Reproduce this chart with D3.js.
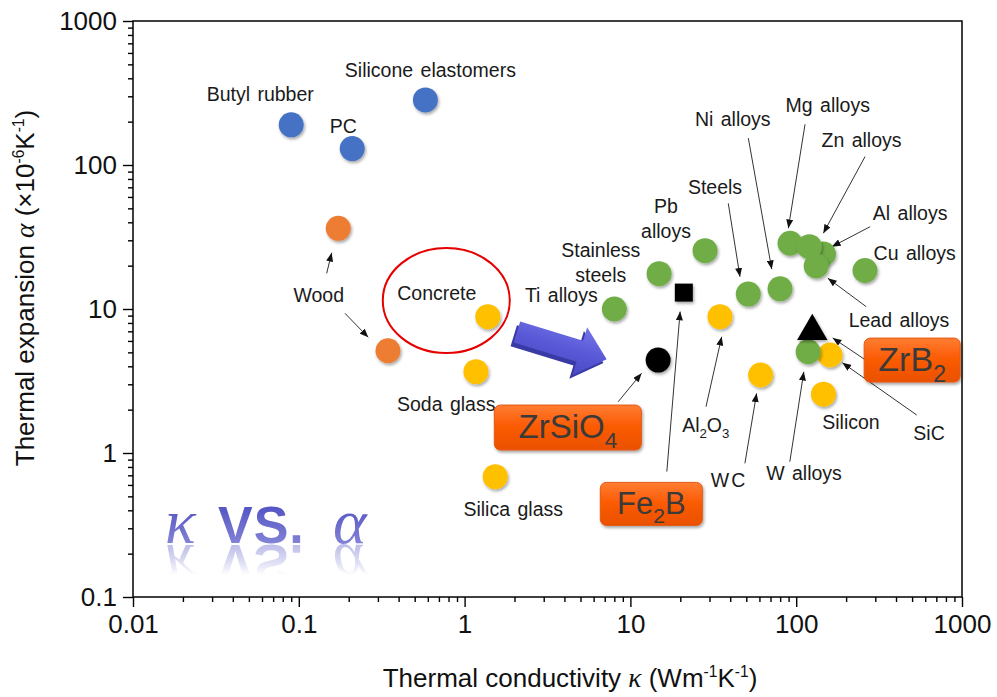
<!DOCTYPE html>
<html>
<head>
<meta charset="utf-8">
<script src="https://cdn.jsdelivr.net/npm/d3@7"></script>
<style>
  body { margin: 0; background: #fff; }
  svg { display: block; font-family: "Liberation Sans", Arial, sans-serif; }
</style>
</head>
<body>
<svg id="chart" width="997" height="697"></svg>
<script>
// ---- Material property data: thermal conductivity κ (W m^-1 K^-1), expansion α (10^-6 K^-1) ----
const polymerNames = ["Butyl rubber", "PC", "Silicone elastomers"];
const polymerK = [0.09, 0.21, 0.58];
const polymerA = [190, 130, 283];

const woodNames = ["Wood", "Wood"];
const woodK = [0.173, 0.345];
const woodA = [36.3, 5.13];

const ceramicNames = ["Concrete", "Soda glass", "Silica glass", "Al2O3", "WC", "SiC", "Silicon"];
const ceramicK = [1.38, 1.17, 1.53, 34.7, 61, 160, 146];
const ceramicA = [8.84, 3.67, 0.685, 8.84, 3.48, 4.79, 2.56];

const metalNames = ["Ti alloys", "Stainless steels", "Pb alloys", "Steels", "Ni alloys",
                    "Al alloys", "Mg alloys", "Zn alloys", "Lead alloys", "Cu alloys", "W alloys"];
const metalK = [8.0, 14.9, 28.2, 51.4, 79.9, 146, 91.8, 120, 132, 260, 118];
const metalA = [10.0, 17.6, 25.4, 12.7, 13.8, 24.1, 28.6, 27.1, 19.9, 18.5, 5.05];

const compoundNames = ["ZrSiO4", "Fe2B", "ZrB2"];
const compoundK = [14.7, 21, 125];
const compoundA = [4.42, 13.0, 7.0];
const compoundShapes = ["circle", "square", "triangle"];

const xTicks = [0.01, 0.1, 1, 10, 100, 1000];
const xTickLabels = ["0.01", "0.1", "1", "10", "100", "1000"];
const yTicks = [0.1, 1, 10, 100, 1000];
const yTickLabels = ["0.1", "1", "10", "100", "1000"];

// ---- Label placement (pixel offsets from each marker centre) ----
const notes = {
  "Butyl rubber":        { text: ["Butyl rubber"], at: [-31, -24] },
  "PC":                  { text: ["PC"], at: [-9, -16] },
  "Silicone elastomers": { text: ["Silicone elastomers"], at: [5, -23] },
  "Wood#0":              { text: ["Wood"], at: [-19.5, 73.4], arrow: [[-11.6, 45], [-6.6, 24.4]] },
  "Wood#1":              { arrow: [[-43, -37.4], [-19.7, -13.4]] },
  "Concrete":            { text: ["Concrete"], at: [-51, -16.7] },
  "Soda glass":          { text: ["Soda glass"], at: [-29.7, 39.3] },
  "Silica glass":        { text: ["Silica glass"], at: [18, 39] },
  "Al2O3":               { text: ["Al2O3"], at: [-14.2, 115], arrow: [[-14, 90], [1.7, 20]] },
  "WC":                  { text: ["WC"], at: [-31.5, 111.7], arrow: [[-15.7, 88.3], [-4, 18.3]], spacing: 2 },
  "SiC":                 { text: ["SiC"], at: [99, 85], arrow: [[86.7, 60], [12.3, 7.7]] },
  "Silicon":             { text: ["Silicon"], at: [27.5, 34.7] },
  "Ti alloys":           { text: ["Ti alloys"], at: [-53, -7.3] },
  "Stainless steels":    { text: ["Stainless", "steels"], at: [-58.3, -17] },
  "Pb alloys":           { text: ["Pb", "alloys"], at: [-39, -38] },
  "Steels":              { text: ["Steels"], at: [-33.3, -100], arrow: [[-20, -90.7], [-8.3, -17.3]] },
  "Ni alloys":           { text: ["Ni alloys"], at: [-47.3, -163], arrow: [[-31.7, -150.7], [-8.3, -19.7]] },
  "Mg alloys":           { text: ["Mg alloys"], at: [37.7, -131.6], arrow: [[15, -119], [-1.7, -15]] },
  "Zn alloys":           { text: ["Zn alloys"], at: [52.2, -100], arrow: [[55.7, -90], [14, -13.4]] },
  "Al alloys":           { text: ["Al alloys"], at: [86.7, -34], arrow: [[46.7, -27.3], [8.4, -7.3]] },
  "Lead alloys":         { text: ["Lead alloys"], at: [82.8, 60.7], arrow: [[50, 40.7], [11.7, 12.3]] },
  "Cu alloys":           { text: ["Cu alloys"], at: [49.7, -10.7] },
  "W alloys":            { text: ["W alloys"], at: [-4.1, 128.3], arrow: [[-18.3, 110], [-4.3, 20]] }
};

const boxes = {
  "ZrSiO4": { at: [-90.3, 67.5], size: [147, 45], fs: 33, arrow: [[-40, 41.7], [-16.6, 13.3]] },
  "Fe2B":   { at: [-32.5, 211.3], size: [102, 43], fs: 31, arrow: [[-17, 179], [-3.7, 19]] },
  "ZrB2":   { at: [99.9, 28.8], size: [96, 44], fs: 34, arrow: [[52.7, 28.3], [20.4, 6.6]] }
};

// ---- Scales ----
const x = d3.scaleLog().domain([0.01, 1000]).range([133, 962]);
const y = d3.scaleLog().domain([0.1, 1000]).range([597, 21]);

const svg = d3.select("#chart");
const defs = svg.append("defs");

const shadow = defs.append("filter").attr("id", "shadow")
  .attr("x", "-50%").attr("y", "-50%").attr("width", "200%").attr("height", "200%");
shadow.append("feDropShadow").attr("dx", 1.2).attr("dy", 2).attr("stdDeviation", 1.4)
  .attr("flood-color", "#000").attr("flood-opacity", 0.35);

defs.append("marker").attr("id", "head")
  .attr("viewBox", "0 0 10 8").attr("refX", 10).attr("refY", 4)
  .attr("markerWidth", 9).attr("markerHeight", 7)
  .attr("markerUnits", "userSpaceOnUse").attr("orient", "auto")
  .append("path").attr("d", "M0,0L10,4L0,8Z").attr("fill", "#111");

const boxGrad = defs.append("linearGradient").attr("id", "boxGrad")
  .attr("x1", 0).attr("y1", 0).attr("x2", 0).attr("y2", 1);
boxGrad.append("stop").attr("offset", 0).attr("stop-color", "#ff7d33");
boxGrad.append("stop").attr("offset", 0.45).attr("stop-color", "#fb5c06");
boxGrad.append("stop").attr("offset", 1).attr("stop-color", "#ea5000");

const arrowGrad = defs.append("linearGradient").attr("id", "arrowGrad")
  .attr("x1", 0).attr("y1", 0).attr("x2", 0).attr("y2", 1);
arrowGrad.append("stop").attr("offset", 0).attr("stop-color", "#7474e8");
arrowGrad.append("stop").attr("offset", 0.5).attr("stop-color", "#5a5ad8");
arrowGrad.append("stop").attr("offset", 1).attr("stop-color", "#4a4ac6");

// ---- Axes ----
const minorTicks = [];
for (let e = -2; e < 3; e++) for (let m = 2; m < 10; m++) minorTicks.push(m * Math.pow(10, e));

function styleAxis(g) {
  g.selectAll("path.domain").remove();
  g.selectAll("line").attr("stroke", "#000").attr("stroke-width", 1.4);
  g.selectAll("text").attr("font-size", 26).attr("fill", "#111")
    .attr("font-family", "'Liberation Sans', Arial, sans-serif");
}

const gx = svg.append("g").attr("transform", "translate(0,597)");
gx.append("g").call(d3.axisBottom(x).tickValues(minorTicks.filter(v => v < 1000)).tickSize(5).tickFormat(""));
gx.append("g").call(d3.axisBottom(x).tickValues(xTicks).tickSize(10).tickPadding(8)
  .tickFormat((d, i) => xTickLabels[i]));
gx.selectAll("g").call(styleAxis);

const gy = svg.append("g").attr("transform", "translate(133,0)");
gy.append("g").call(d3.axisLeft(y).tickValues(minorTicks.filter(v => v >= 0.1 && v < 1000)).tickSize(5).tickFormat(""));
gy.append("g").call(d3.axisLeft(y).tickValues(yTicks).tickSize(10).tickPadding(6)
  .tickFormat((d, i) => yTickLabels[i]));
gy.selectAll("g").call(styleAxis);

// plot frame
svg.append("rect")
  .attr("x", x(0.01)).attr("y", y(1000))
  .attr("width", x(1000) - x(0.01)).attr("height", y(0.1) - y(1000))
  .attr("fill", "none").attr("stroke", "#000").attr("stroke-width", 1.5);

// ---- Axis titles ----
function richText(sel, parts, fs) {
  parts.forEach(p => {
    const t = sel.append("tspan").text(p.t);
    if (p.greek) t.attr("font-family", "'Liberation Serif', 'Times New Roman', serif").attr("font-style", "italic").attr("font-size", fs * 1.05);
    if (p.sup) t.attr("font-size", fs * 0.6).attr("dy", -fs * 0.38);
    if (p.back) t.attr("dy", fs * 0.38);
  });
}

const xt = svg.append("text").attr("x", 570).attr("y", 687)
  .attr("text-anchor", "middle").attr("font-size", 26).attr("fill", "#111");
richText(xt, [
  { t: "Thermal conductivity " }, { t: "\u03BA", greek: true }, { t: " (Wm" },
  { t: "-1", sup: true }, { t: "K", back: true }, { t: "-1", sup: true }, { t: ")", back: true }
], 26);

const yt = svg.append("text").attr("transform", "translate(34,288) rotate(-90)")
  .attr("text-anchor", "middle").attr("font-size", 26).attr("fill", "#111");
richText(yt, [
  { t: "Thermal expansion " }, { t: "\u03B1", greek: true }, { t: " (\u00D710" },
  { t: "-6", sup: true }, { t: "K", back: true }, { t: "-1", sup: true }, { t: ")", back: true }
], 26);

// ---- Build point list ----
function collect(names, ks, as, color) {
  return names.map((n, i) => ({ name: n, key: n === "Wood" ? "Wood#" + i : n, k: ks[i], a: as[i], color }));
}
const points = [].concat(
  collect(polymerNames, polymerK, polymerA, "#4472C4"),
  collect(woodNames, woodK, woodA, "#ED7D31"),
  collect(ceramicNames, ceramicK, ceramicA, "#FFC000"),
  collect(metalNames, metalK, metalA, "#70AD47")
);
points.forEach(p => { p.px = x(p.k); p.py = y(p.a); });

const compounds = compoundNames.map((n, i) => ({
  name: n, k: compoundK[i], a: compoundA[i], shape: compoundShapes[i], px: x(compoundK[i]), py: y(compoundA[i])
}));

// ---- Highlight ellipse around concrete ----
const concrete = points.find(p => p.name === "Concrete");
svg.append("ellipse")
  .attr("cx", concrete.px - 41.5).attr("cy", concrete.py - 16.2)
  .attr("rx", 63.5).attr("ry", 52.5)
  .attr("fill", "none").attr("stroke", "#e60000").attr("stroke-width", 2);

// ---- Big 3D-style arrow ----
const arrowTail = [2.07, 6.92], arrowTip = [7.19, 4.47];
const p0 = [x(arrowTail[0]), y(arrowTail[1])], p1 = [x(arrowTip[0]), y(arrowTip[1])];
const L = Math.hypot(p1[0] - p0[0], p1[1] - p0[1]);
const ang = Math.atan2(p1[1] - p0[1], p1[0] - p0[0]) * 180 / Math.PI;
const hw = 11, hh = 25, hl = 28;
const arrowShape = [[0, -hw], [L - hl, -hw], [L - hl, -hh], [L, 0], [L - hl, hh], [L - hl, hw], [0, hw]];
const ga = svg.append("g").attr("transform", `translate(${p0[0]},${p0[1]}) rotate(${ang})`);
ga.append("polygon").attr("points", arrowShape.map(q => [q[0] - 2, q[1] + 4.5].join(",")).join(" "))
  .attr("fill", "#3a3aa6");
ga.append("polygon").attr("points", arrowShape.map(q => q.join(",")).join(" "))
  .attr("fill", "url(#arrowGrad)");

// ---- Leader arrows ----
const leaders = svg.append("g");
function leader(px, py, arr) {
  leaders.append("line")
    .attr("x1", px + arr[0][0]).attr("y1", py + arr[0][1])
    .attr("x2", px + arr[1][0]).attr("y2", py + arr[1][1])
    .attr("stroke", "#333").attr("stroke-width", 1)
    .attr("marker-end", "url(#head)");
}
points.forEach(p => { const n = notes[p.key]; if (n && n.arrow) leader(p.px, p.py, n.arrow); });
compounds.forEach(c => leader(c.px, c.py, boxes[c.name].arrow));

// ---- Markers ----
svg.append("g").selectAll("circle").data(points).join("circle")
  .attr("cx", d => d.px).attr("cy", d => d.py).attr("r", 12.5)
  .attr("fill", d => d.color).attr("filter", "url(#shadow)");

const symbolFor = { circle: d3.symbolCircle, square: d3.symbolSquare, triangle: d3.symbolTriangle };
const symbolSize = { circle: Math.PI * 12.5 * 12.5, square: 18 * 18, triangle: 400 };
svg.append("g").selectAll("path").data(compounds).join("path")
  .attr("transform", d => `translate(${d.px},${d.py})`)
  .attr("d", d => d3.symbol(symbolFor[d.shape], symbolSize[d.shape])())
  .attr("fill", "#000").attr("filter", "url(#shadow)");

// ---- Text labels (digits in formulas become subscripts) ----
function formula(sel, str, fs) {
  str.split(/(\d+)/).filter(s => s.length).forEach(s => {
    if (/^\d+$/.test(s)) {
      sel.append("tspan").text(s).attr("font-size", fs * 0.68).attr("dy", fs * 0.3);
    } else {
      const t = sel.append("tspan").text(s);
      if (sel.selectAll("tspan").size() > 1) t.attr("dy", -fs * 0.3);
    }
  });
}

const labelFs = 19.5;
const labels = svg.append("g").attr("fill", "#1a1a1a").attr("font-size", labelFs);
points.forEach(p => {
  const n = notes[p.key];
  if (!n || !n.text) return;
  n.text.forEach((line, j) => {
    const t = labels.append("text")
      .attr("x", p.px + n.at[0]).attr("y", p.py + n.at[1] + j * 25)
      .attr("text-anchor", "middle").attr("word-spacing", 2);
    if (n.spacing) t.attr("letter-spacing", n.spacing);
    formula(t, line, labelFs);
  });
});

// ---- Orange callout boxes for the compounds ----
compounds.forEach(c => {
  const b = boxes[c.name];
  const cx = c.px + b.at[0], cy = c.py + b.at[1];
  svg.append("rect")
    .attr("x", cx - b.size[0] / 2).attr("y", cy - b.size[1] / 2)
    .attr("width", b.size[0]).attr("height", b.size[1]).attr("rx", 6)
    .attr("fill", "url(#boxGrad)").attr("stroke", "#e35a12").attr("stroke-width", 1)
    .attr("filter", "url(#shadow)");
  const t = svg.append("text").attr("x", cx).attr("y", cy + b.fs * 0.33)
    .attr("text-anchor", "middle").attr("font-size", b.fs).attr("fill", "#3a3a3a");
  formula(t, c.name, b.fs);
});

// ---- "κ VS. α" decorative heading with a mirrored reflection ----
const base = 543;
const headGrad = defs.append("linearGradient").attr("id", "headGrad")
  .attr("gradientUnits", "userSpaceOnUse").attr("x1", 0).attr("y1", base - 40).attr("x2", 0).attr("y2", base);
headGrad.append("stop").attr("offset", 0).attr("stop-color", "#5050c2");
headGrad.append("stop").attr("offset", 1).attr("stop-color", "#8282d6");

const reflGrad = defs.append("linearGradient").attr("id", "reflGrad")
  .attr("gradientUnits", "userSpaceOnUse").attr("x1", 0).attr("y1", base).attr("x2", 0).attr("y2", base + 32);
reflGrad.append("stop").attr("offset", 0).attr("stop-color", "#fff").attr("stop-opacity", 0.55);
reflGrad.append("stop").attr("offset", 1).attr("stop-color", "#fff").attr("stop-opacity", 0);
defs.append("mask").attr("id", "reflMask").attr("maskUnits", "userSpaceOnUse")
  .attr("x", 0).attr("y", 0).attr("width", 997).attr("height", 697)
  .append("rect").attr("x", 0).attr("y", base).attr("width", 997).attr("height", 40).attr("fill", "url(#reflGrad)");

// the mirrored copy re-uses the heading group instead of duplicating its text
svg.append("g").attr("mask", "url(#reflMask)")
  .append("use").attr("href", "#kvsa")
  .attr("transform", `translate(0,${2 * base + 2}) scale(1,-1)`);

const heading = svg.append("g").attr("id", "kvsa");
heading.append("text").attr("x", 165).attr("y", base).text("\u03BA")
  .attr("font-family", "'Liberation Serif', 'Times New Roman', serif").attr("font-style", "italic")
  .attr("font-size", 64).attr("fill", "url(#headGrad)");
heading.append("text").attr("x", 218).attr("y", base).text("VS.")
  .attr("font-weight", "bold").attr("font-size", 52).attr("letter-spacing", 1)
  .attr("fill", "url(#headGrad)");
heading.append("text").attr("x", 333).attr("y", base).text("\u03B1")
  .attr("font-family", "'Liberation Serif', 'Times New Roman', serif").attr("font-style", "italic")
  .attr("font-size", 64).attr("fill", "url(#headGrad)");
</script>
</body>
</html>
